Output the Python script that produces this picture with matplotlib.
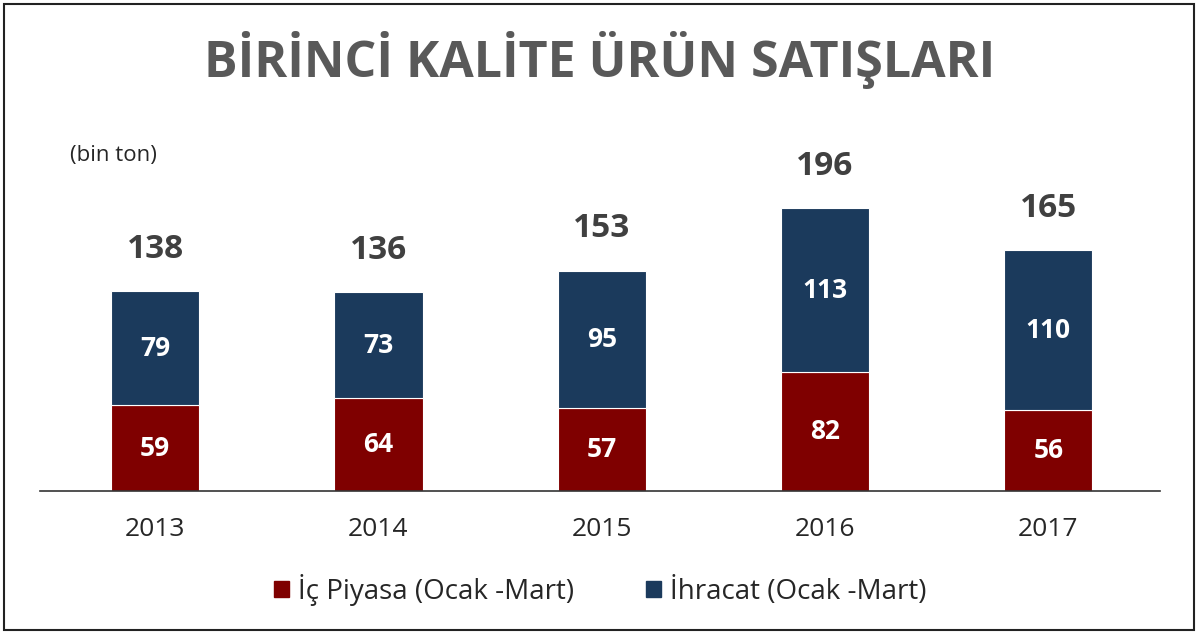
import matplotlib.pyplot as plt
import matplotlib.patches as mpatches
import numpy as np

plt.rcParams['font.family'] = ['Open Sans', 'DejaVu Sans']

years = ['2013', '2014', '2015', '2016', '2017']
ic_piyasa = [59, 64, 57, 82, 56]
ihracat = [79, 73, 95, 113, 110]
totals = [138, 136, 153, 196, 165]
labels = ['İç Piyasa (Ocak -Mart)', 'İhracat (Ocak -Mart)']

red = '#7F0000'
navy = '#1B3A5C'

fig = plt.figure(figsize=(12, 6.33), dpi=100)
ax = fig.add_axes([0.0333, 0.2243, 0.9333, 0.5703])

x = np.arange(len(years))
w = 0.395
ax.bar(x, ic_piyasa, w, color=red, edgecolor='white', linewidth=0.8)
ax.bar(x, ihracat, w, bottom=ic_piyasa, color=navy, edgecolor='white', linewidth=0.8)

# values inside the segments + totals above
for i in range(len(years)):
    ax.text(x[i], ic_piyasa[i] / 2, str(ic_piyasa[i]), ha='center', va='center',
            color='white', fontsize=19, fontweight='bold')
    ax.text(x[i], ic_piyasa[i] + ihracat[i] / 2, str(ihracat[i]), ha='center', va='center',
            color='white', fontsize=19, fontweight='bold')
    ax.annotate(str(totals[i]), (x[i], ic_piyasa[i] + ihracat[i]), xytext=(0, 30),
                textcoords='offset points', ha='center', va='center',
                color='#404040', fontsize=24, fontweight='bold')

ax.set_xlim(-0.516, 4.5)
ax.set_ylim(0, 249)
for s in ['top', 'right', 'left']:
    ax.spines[s].set_visible(False)
ax.spines['bottom'].set_color('#333333')
ax.spines['bottom'].set_linewidth(1.2)
ax.set_yticks([])
ax.set_xticks(x)
ax.set_xticklabels(years, fontsize=19, color='#262626')
ax.tick_params(axis='x', length=0, pad=19)

fig.text(0.5, 0.905, 'BİRİNCİ KALİTE ÜRÜN SATIŞLARI', ha='center', va='center',
         fontsize=36, fontweight='bold', color='#595959')
fig.text(0.058, 0.755, '(bin ton)', ha='left', va='center', fontsize=16, color='#262626')

handles = [mpatches.Patch(color=red), mpatches.Patch(color=navy)]
fig.legend(handles, labels, loc='center', bbox_to_anchor=(0.5, 0.068), ncol=2,
           frameon=False, fontsize=20, handlelength=0.55, handleheight=0.55,
           handletextpad=0.3, columnspacing=2.6, labelcolor='#262626')

# outer frame
fig.patches.append(mpatches.Rectangle((0.003, 0.004), 0.992, 0.99, transform=fig.transFigure,
                                      fill=False, edgecolor='#222222', linewidth=1.5))

fig.savefig('out.png', dpi=100)
